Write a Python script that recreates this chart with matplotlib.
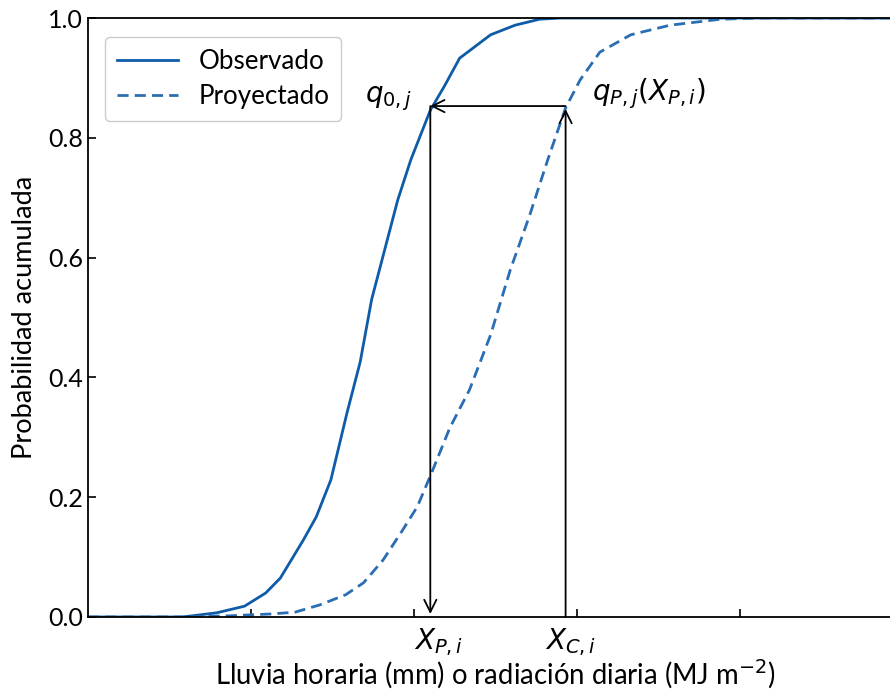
"""Empirical CDFs: observed vs projected, with quantile-mapping arrows."""

import matplotlib
matplotlib.use("Agg")
import matplotlib.pyplot as plt
import matplotlib.transforms as mtransforms

# --- Data ------------------------------------------------------------------
obs_x = [0.0, 0.58, 0.79, 0.96, 1.09, 1.18, 1.32, 1.40, 1.49, 1.59, 1.67,
         1.74, 1.82, 1.90, 1.98, 2.10, 2.19, 2.28, 2.47, 2.62, 2.77, 2.90, 5.0]
obs_y = [0.0, 0.0, 0.007, 0.018, 0.040, 0.065, 0.128, 0.167, 0.229, 0.342,
         0.426, 0.530, 0.613, 0.696, 0.763, 0.846, 0.888, 0.933, 0.972,
         0.988, 0.998, 1.0, 1.0]

proj_x = [0.0, 0.58, 0.87, 1.12, 1.27, 1.42, 1.58, 1.69, 1.81, 1.93, 2.02,
          2.11, 2.22, 2.34, 2.47, 2.59, 2.71, 2.82, 2.93, 3.02, 3.14, 3.33,
          3.57, 3.88, 4.12, 5.0]
proj_y = [0.0, 0.0, 0.002, 0.005, 0.008, 0.020, 0.037, 0.057, 0.095, 0.145,
          0.184, 0.242, 0.316, 0.379, 0.471, 0.579, 0.671, 0.763, 0.850,
          0.897, 0.943, 0.972, 0.988, 0.998, 1.0, 1.0]

x_ticks = [1, 2, 3, 4]

# quantile mapping: x of observed / projected point and shared probability
x_obs_q = 2.10
x_proj_q = 2.93
q_level = 0.853

# --- Figure ----------------------------------------------------------------
plt.rcParams["font.family"] = ["Lato", "DejaVu Sans"]
plt.rcParams["mathtext.fontset"] = "dejavusans"

fig = plt.figure(figsize=(8.9, 6.93), dpi=100)
ax = fig.add_axes([0.0989, 0.1097, 1.0146 - 0.0989, 0.974 - 0.1097])

line_obs = "#0e5ca8"
line_proj = "#2a6db3"

ax.plot(obs_x, obs_y, color=line_obs, linewidth=2.0, label="Observado")
ax.plot(proj_x, proj_y, color=line_proj, linewidth=2.0, linestyle="--",
        dashes=(4, 2.2), label="Proyectado")

arrow = dict(arrowstyle="->", color="black", linewidth=1.3,
             shrinkA=0, shrinkB=0, mutation_scale=22)
# horizontal: projected quantile -> observed quantile
ax.annotate("", xy=(x_obs_q, q_level), xytext=(x_proj_q, q_level),
            arrowprops=arrow)
# down from observed curve to x axis
ax.annotate("", xy=(x_obs_q, 0.005), xytext=(x_obs_q, q_level),
            arrowprops=arrow)
# up from x axis to projected curve
ax.annotate("", xy=(x_proj_q, q_level - 0.005), xytext=(x_proj_q, 0.0),
            arrowprops=arrow)

ax.text(x_obs_q - 0.11, q_level + 0.013, r"$q_{0,j}$", fontsize=20,
        ha="right", va="center")
ax.text(x_proj_q + 0.16, q_level + 0.02, r"$q_{P,j}(X_{P,i})$", fontsize=20,
        ha="left", va="center")

# x-axis labels sit under the vertical arrows, not the ticks
trans = mtransforms.blended_transform_factory(ax.transData, ax.transAxes)
ax.text(x_obs_q + 0.05, -0.015, r"$X_{P,i}$", transform=trans, fontsize=20,
        ha="center", va="top")
ax.text(x_proj_q + 0.03, -0.015, r"$X_{C,i}$", transform=trans, fontsize=20,
        ha="center", va="top")

ax.set_xlim(0, 5)
ax.set_ylim(0, 1)
ax.set_xticks(x_ticks)
ax.set_xticklabels([])
ax.set_yticks([0, 0.2, 0.4, 0.6, 0.8, 1.0])
ax.set_yticklabels(["0.0", "0.2", "0.4", "0.6", "0.8", "1.0"])
ax.tick_params(direction="in", length=6, width=1.2, labelsize=18)
for spine in ax.spines.values():
    spine.set_linewidth(1.3)

ax.set_xlabel(r"Lluvia horaria (mm) o radiación diaria (MJ m$^{-2}$)",
              fontsize=19.8, labelpad=26)
ax.set_ylabel("Probabilidad acumulada", fontsize=19.5, labelpad=8)

ax.legend(loc="upper left", fontsize=18.7, fancybox=True, framealpha=1,
          edgecolor="#cccccc", handlelength=2.35, borderpad=0.45,
          labelspacing=0.4, bbox_to_anchor=(0.005, 0.99))

fig.savefig("out.png", dpi=100)
